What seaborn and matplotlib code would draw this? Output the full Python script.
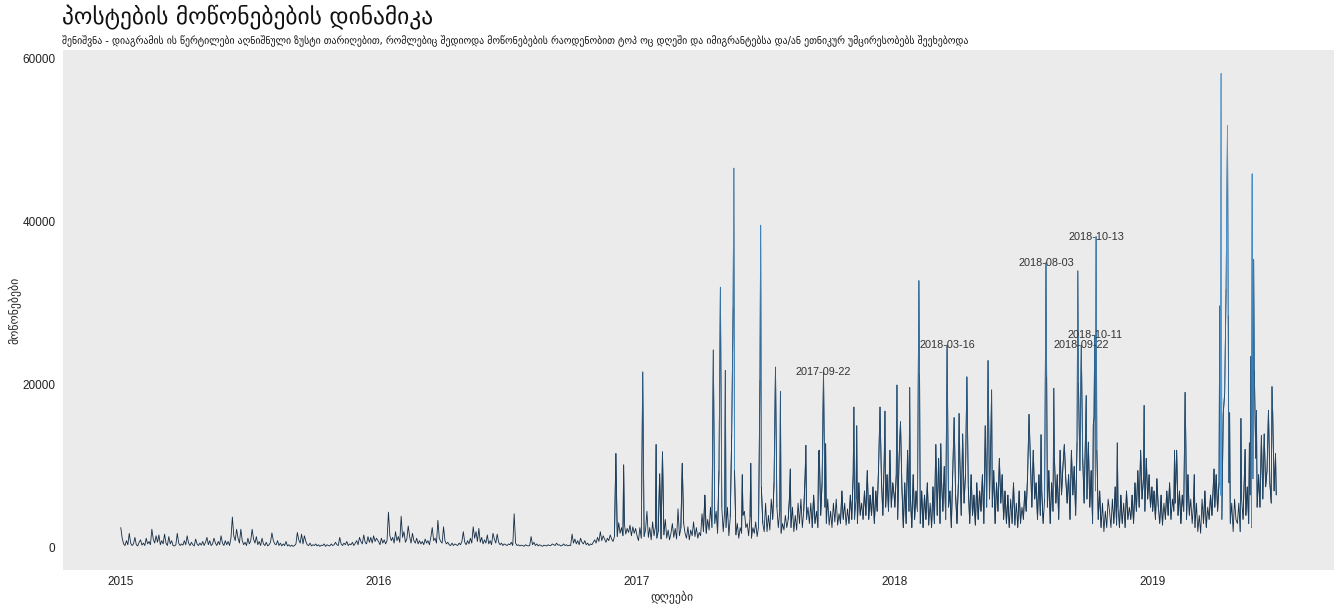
import pandas as pd
import matplotlib
matplotlib.use("Agg")
import matplotlib.pyplot as plt
from matplotlib.collections import LineCollection
from matplotlib.colors import LinearSegmentedColormap, Normalize
import matplotlib.dates as mdates
import seaborn as sns

# likes every second day (one list per year, roughly a line per month)
likes_2015 = [2500, 1200, 500, 300, 900, 400, 1800, 600, 300, 500, 1300, 400, 250, 700, 1000, 350,
              600, 300, 1200, 500, 800, 400, 2300, 1100, 600, 1500, 700, 1600, 400, 900,
              500, 1700, 600, 300, 1400, 500, 900, 300, 250, 400, 1800, 600, 300, 500, 350,
              900, 400, 1500, 600, 300, 700, 400, 250, 1100, 500, 300, 600, 350, 800, 300,
              700, 1300, 400, 900, 300, 500, 1200, 600, 300, 800, 400, 1500, 600, 300, 900, 400,
              800, 300, 1200, 3800, 1500, 900, 2300, 1200, 600, 2300, 900, 400, 700, 300, 1200,
              500, 900, 2300, 1100, 600, 1400, 400, 800, 300, 1200, 500, 300, 700, 250, 400,
              700, 1850, 900, 500, 400, 900, 300, 600, 250, 500, 300, 800, 250, 400, 200, 350,
              200, 300, 500, 1900, 1000, 600, 1700, 500, 1500, 800, 400, 300, 600, 250, 400,
              300, 500, 250, 400, 200, 350, 300, 500, 200, 400, 300, 250, 500, 300, 400,
              700, 400, 300, 1300, 500, 300, 600, 400, 800, 300, 500, 400, 700, 300, 600,
              900, 400, 1300, 800, 500, 1600, 700, 500, 1400, 700, 1300, 600, 1500, 800, 1200, 900]
likes_2016 = [800, 400, 1200, 600, 1000, 500, 900, 4400, 1500, 900, 1300, 600, 2000, 900, 1400, 700,
              3900, 1300, 2000, 700, 1100, 2700, 1400, 600, 1800, 900, 600, 1200, 500, 900,
              500, 800, 400, 1100, 600, 900, 400, 1300, 2500, 900, 1200, 600, 3400, 1200, 800, 600,
              2600, 900, 500, 700, 400, 300, 600, 300, 500, 400, 300, 600, 400, 800,
              2000, 700, 400, 900, 500, 1200, 600, 2600, 1200, 2000, 800, 2400, 700, 1300, 500, 1000,
              600, 1600, 500, 900, 400, 1800, 1100, 600, 1700, 700, 400, 600, 300, 500, 400,
              300, 500, 400, 700, 300, 4200, 600, 300, 400, 250, 350, 300, 200, 400, 300, 250,
              300, 1400, 400, 700, 300, 500, 250, 400, 300, 200, 350, 300, 250, 400, 300,
              300, 500, 400, 300, 600, 350, 400, 250, 300, 500, 300, 400, 250, 350, 300,
              1700, 600, 1100, 500, 900, 400, 1200, 700, 500, 900, 400, 600, 300, 500, 400, 700,
              1000, 600, 1300, 800, 2000, 900, 1500, 1100, 700, 1200, 900, 1600, 1100, 800, 1400,
              2200, 1400, 3100, 1800, 2500, 1500, 3000, 1700, 2400, 1900, 2800, 1500, 2600, 1800, 2400]
likes_2017 = [1500, 900, 2500, 1200, 3000, 1400, 2200, 4500, 1300, 2500, 1000, 3200, 1500, 2600, 1200, 2000,
              2800, 1100, 5500, 1600, 3500, 1200, 2200, 1000, 1800, 3000, 1300, 2400, 1100, 4800,
              1500, 2400, 1300, 3000, 1800, 1200, 2600, 1000, 2200, 1500, 3200, 1400, 2500, 1200, 1900, 1500,
              4200, 2000, 6500, 1800, 3500, 2200, 5000, 2500, 8000, 3000, 4500, 1800, 9500, 2500,
              5000, 2000, 4500, 2500, 5000, 1500, 3800, 14000, 2200, 9500, 1600, 3000, 1200, 2500, 1800, 4000,
              4500, 2500, 3000, 1500, 3800, 1200, 2500, 1800, 3200, 1400, 2600, 1500, 7500, 3000, 2000,
              5500, 2000, 4000, 2200, 6000, 3500, 8000, 2000, 5000, 2500, 4500, 1800, 3000, 2200, 4000, 2500,
              3500, 6500, 2500, 5000, 2000, 4000, 2200, 5500, 3000, 6000, 2500, 4500, 9000, 3500, 5000,
              3000, 5500, 2500, 6500, 3000, 4500, 2500, 12000, 4000, 8000, 2200, 5000, 3000, 6000, 2800,
              4500, 2500, 5500, 3200, 6000, 2800, 4200, 3000, 7000, 3500, 5500, 2800, 4800, 3000, 6500, 3500,
              9000, 3500, 6000, 3000, 8000, 4000, 5500, 3500, 7000, 4000, 9500, 3500, 6500, 4000, 7500,
              3000, 7000, 4500, 10000, 3500, 8500, 4000, 11000, 5000, 9000, 4500, 12000, 5000, 8000, 6500]
likes_2018 = [5000, 9000, 3500, 11000, 4000, 7500, 2500, 8000, 3000, 12000, 4500, 6500, 2500, 9000, 3500, 7000,
              4500, 10000, 3000, 7000, 2500, 6500, 3500, 8000, 2800, 5500, 2500, 7500, 3000, 9000,
              4000, 11000, 3000, 8500, 4500, 10000, 3500, 12000, 5000, 7000, 2500, 9500, 4000, 6500, 3000,
              8000, 11000, 4000, 14000, 5500, 9000, 3500, 7500, 3000, 9000, 4000, 6500, 2800, 8000, 3500,
              7000, 4500, 9000, 3000, 15000, 5000, 12000, 6000, 14000, 5000, 9500, 3000, 8000, 4500, 11000, 5500,
              9000, 3500, 7000, 3000, 6500, 2500, 6000, 3000, 8000, 2800, 5500, 2500, 7000, 3000, 5000,
              3500, 7000, 4500, 9000, 3000, 10500, 5000, 12000, 6000, 8000, 3500, 9000, 4000, 7000, 3000,
              6000, 14000, 5000, 9500, 3000, 8000, 4500, 11000, 5500, 9000, 3500, 12000, 6500, 10000, 4000, 8500,
              5500, 9000, 3500, 12000, 6500, 10000, 4000, 13000, 5000, 9500, 3000, 11000, 5500, 14000, 6000,
              13000, 5000, 9500, 3000, 16000, 7000, 12000, 3500, 7000, 2500, 5500, 2000, 4500, 2500, 6000,
              4500, 2500, 6000, 3000, 7500, 2800, 5000, 2500, 6500, 3000, 5500, 2500, 7000, 3500, 5000,
              3500, 6500, 3000, 8000, 4500, 9500, 5000, 12000, 6000, 8500, 4500, 11000, 6000, 9000, 5000, 7500]
likes_2019 = [4500, 7000, 3500, 8500, 5000, 3000, 6500, 2800, 5500, 3500, 7000, 4000, 8000, 3500, 6000, 4500,
              5500, 12000, 4000, 7000, 3000, 6500, 4500, 8000, 3500, 9000, 4000, 6000, 3000, 5500,
              2500, 5500, 2000, 4000, 1800, 6000, 3000, 7000, 2500, 5000, 3500, 6500, 4000, 8000, 5000,
              9000, 4500, 8000, 6500, 3500, 7500, 4000, 12000, 5500, 8000, 3000, 5500, 2000, 6000, 3500,
              3000, 5500, 2000, 6000, 3500, 9000, 4000, 7500, 3000, 6500, 2500, 8500, 4000, 11000, 5000, 9000,
              5000, 11000, 6000, 14000, 7500, 9500, 4500, 8000, 5500, 12000, 7000, 9500]

# single days that stand out
spike_dates = ["2016-12-02", "2016-12-13", "2017-01-09", "2017-01-28", "2017-02-02",
               "2017-02-06", "2017-03-06", "2017-04-19", "2017-04-29", "2017-05-06",
               "2017-05-17", "2017-05-18", "2017-05-30", "2017-06-11", "2017-06-24",
               "2017-06-25", "2017-07-16", "2017-07-23", "2017-08-06", "2017-08-28",
               "2017-09-15", "2017-09-22", "2017-09-25", "2017-11-04", "2017-11-08",
               "2017-12-11", "2017-12-18", "2018-01-04", "2018-01-09", "2018-01-22",
               "2018-02-04", "2018-02-05", "2018-02-28", "2018-03-07", "2018-03-16",
               "2018-03-26", "2018-04-02", "2018-04-13", "2018-05-13", "2018-05-18",
               "2018-07-10", "2018-07-27", "2018-08-03", "2018-08-04", "2018-08-14",
               "2018-08-29", "2018-09-17", "2018-09-18", "2018-09-22", "2018-09-29",
               "2018-10-09", "2018-10-11", "2018-10-13", "2018-11-12", "2018-12-20",
               "2019-02-01", "2019-02-16", "2019-02-17", "2019-03-01", "2019-03-29",
               "2019-04-06", "2019-04-08", "2019-04-11", "2019-04-13", "2019-04-15",
               "2019-04-17", "2019-04-18", "2019-04-20", "2019-05-06", "2019-05-12",
               "2019-05-18", "2019-05-20", "2019-05-22", "2019-05-24", "2019-05-25",
               "2019-05-28", "2019-06-04", "2019-06-14", "2019-06-19", "2019-06-20",
               "2019-06-24", "2019-06-25"]
spike_likes = [11600, 10200, 21600, 12700, 9100,
               11800, 10400, 24300, 32000, 21800,
               29500, 46600, 9000, 10400, 20600,
               39600, 22200, 19200, 9700, 12600,
               11800, 21600, 12800, 17300, 15000,
               17300, 16800, 20000, 15500, 19700,
               32800, 21300, 12700, 12800, 24900,
               16000, 16500, 21000, 23000, 19400,
               16400, 13900, 35000, 21000, 19600,
               12700, 34000, 20200, 24900, 18700,
               15100, 26100, 38200, 12900, 17500,
               12000, 19100, 13000, 9000, 9700,
               29700, 58200, 16500, 19000, 31800,
               51800, 28500, 16600, 15900, 12100,
               12900, 23500, 45900, 35400, 21800,
               16900, 13800, 16900, 19800, 16600,
               11600, 6500]

label_dates = ["2017-09-22", "2018-03-16", "2018-08-03",
               "2018-09-22", "2018-10-11", "2018-10-13"]

title = "პოსტების მოწონებების დინამიკა"
subtitle = ("შენიშვნა - დიაგრამის ის წერტილები აღნიშნული ზუსტი თარიღებით, რომლებიც "
            "შედიოდა მოწონებების რაოდენობით ტოპ ოც დღეში და იმიგრანტებსა და/ან "
            "ეთნიკურ უმცირესობებს შეეხებოდა")


def build_series():
    parts = []
    for year, vals in ((2015, likes_2015), (2016, likes_2016), (2017, likes_2017),
                       (2018, likes_2018), (2019, likes_2019)):
        idx = pd.date_range(f"{year}-01-01", periods=len(vals), freq="2D")
        parts.append(pd.Series(vals, index=idx, dtype=float))
    base = pd.concat(parts)
    spikes = pd.Series(spike_likes, index=pd.to_datetime(spike_dates), dtype=float)
    return spikes.combine_first(base).sort_index()


s = build_series()
df = pd.DataFrame({"date": s.index, "likes": s.values})

sns.set_theme(style="dark", rc={"axes.facecolor": "#EBEBEB", "figure.facecolor": "white",
                                 "axes.edgecolor": "#EBEBEB", "axes.grid": False})
plt.rcParams["font.family"] = ["DejaVu Sans"]

fig = plt.figure(figsize=(13.42, 6.07), dpi=100)
ax = fig.add_axes([63 / 1342, 37 / 607, 1271 / 1342, 520 / 607])

low, high = "#132B43", "#56B1F7"
sns.lineplot(data=df, x="date", y="likes", color=low, linewidth=0.6, ax=ax)

# colour gradient by value on the higher end of each segment (light blue on tall spikes)
cmap = LinearSegmentedColormap.from_list("gg", [low, high])
norm = Normalize(df["likes"].min(), df["likes"].max())
xs = mdates.date2num(df["date"])
ys = df["likes"].values
segs, cols = [], []
for i in range(len(xs) - 1):
    top = max(ys[i], ys[i + 1])
    if top > 6000:
        segs.append([(xs[i], ys[i]), (xs[i + 1], ys[i + 1])])
        cols.append(cmap(norm(top)))
ax.add_collection(LineCollection(segs, colors=cols, linewidths=0.6))

for d in label_dates:
    v = s[pd.Timestamp(d)]
    ax.text(pd.Timestamp(d), v, d, ha="center", va="center", fontsize=7.8,
            color="#333333", family=["Liberation Sans", "DejaVu Sans"])

xmin, xmax = xs.min(), xs.max()
ax.set_xlim(xmin - 0.05 * (xmax - xmin), xmax + 0.05 * (xmax - xmin))
ymin, ymax = ys.min(), ys.max()
ax.set_ylim(ymin - 0.05 * (ymax - ymin), ymax + 0.05 * (ymax - ymin))

years = [2015, 2016, 2017, 2018, 2019]
ax.set_xticks([pd.Timestamp(f"{y}-01-01") for y in years])
ax.set_xticklabels([str(y) for y in years])
ax.set_yticks([0, 20000, 40000, 60000])
ax.set_yticklabels(["0", "20000", "40000", "60000"])
ax.tick_params(length=0, labelsize=8.5, labelcolor="#222222")
ax.tick_params(axis="y", pad=5.5)
ax.tick_params(axis="x", pad=4)
for lab in ax.get_xticklabels() + ax.get_yticklabels():
    lab.set_family(["Liberation Sans", "DejaVu Sans"])
ax.set_xlabel("")
ax.set_ylabel("")
for sp in ax.spines.values():
    sp.set_visible(False)

fig.text(62 / 1342, 1 - 5 / 607, title, ha="left", va="top", fontsize=16.9, color="#111111")
fig.text(62 / 1342, 1 - 41 / 607, subtitle, ha="left", va="center", fontsize=7.0, color="#111111")
fig.text(672 / 1342, 1 - 598 / 607, "დღეები", ha="center", va="center", fontsize=8.5, color="#222222")
fig.text(15 / 1342, 1 - 310 / 607, "მოწონებები", ha="center", va="center", rotation=90,
         fontsize=8.5, color="#222222")

fig.savefig("out.png", dpi=100)
